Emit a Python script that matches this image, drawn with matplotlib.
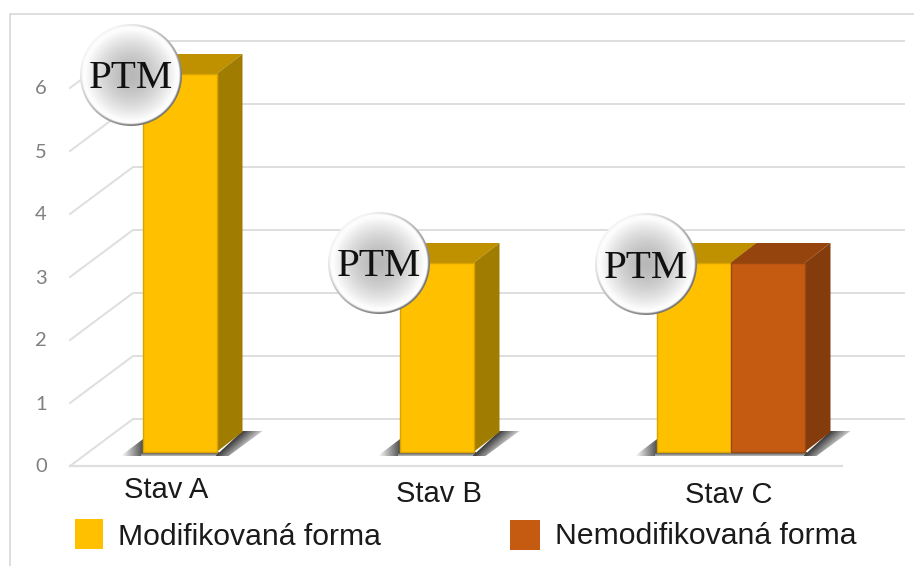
"""Sloupcovy graf PTM: stavy A, B, C s 3D vzhledem kresleny v matplotlib."""
import matplotlib

matplotlib.use("Agg")
import matplotlib.pyplot as plt
import numpy as np
from matplotlib.patches import Ellipse, Polygon, Rectangle

W, H = 914, 566
UNIT = 63.0  # px na jednotku osy y
BASE = 452.0  # px, kde lezi paty sloupcu

states = ["Stav A", "Stav B", "Stav C"]
modified = [6, 3, 3]
unmodified = [0, 0, 3]
y_ticks = [0, 1, 2, 3, 4, 5, 6]
series_names = ["Modifikovaná forma", "Nemodifikovaná forma"]

BAR_LEFT = [142.5, 399.5, 656.5]
BAR_W = 74
DX, DY = 26, 20
LABEL_POS = [(166, 490), (439, 494), (729, 495)]
PTM_POS = [(131, 75), (379, 263), (646, 264)]

YELLOW = ("#FFC000", "#BF9000", "#A07C00", "#D9A400")
ORANGE = ("#C55A11", "#94440C", "#843C0C", "#9A4A10")
GRID = "#DEDEDE"
SHADOW = matplotlib.colors.LinearSegmentedColormap.from_list("s", ["#3C3C3C", "#FFFFFF"])


def vy(py):
    return (BASE - py) / UNIT


def dy(px):
    return px / UNIT


def shadow_piece(ax, pts, fade):
    """Polygon stinu na podlaze; fade(x, y) dava 0 (tmava) az 1 (svetla)."""
    xs = [p[0] for p in pts]
    ys = [p[1] for p in pts]
    x0, x1, y0, y1 = min(xs), max(xs), min(ys), max(ys)
    yy, xx = np.mgrid[y0:y1:48j, x0:x1:96j]
    poly = Polygon([(x, vy(y)) for x, y in pts], closed=True, facecolor="none", edgecolor="none")
    ax.add_patch(poly)
    im = ax.imshow(np.clip(fade(xx, yy), 0, 1), extent=(x0, x1, vy(y1), vy(y0)), cmap=SHADOW,
                   vmin=0, vmax=1, aspect="auto", zorder=2, origin="upper")
    im.set_clip_path(poly)


def draw_shadow(ax, left, right):
    shadow_piece(ax, [(left - 22, 456), (left + 2, 438), (left + 2, 456)],
                 lambda x, y: (left - x) / 24 + 0.1)
    # pruh pod sloupcem
    shadow_piece(ax, [(left - 2, 452), (right + 2, 452), (right + 2, 456), (left - 2, 456)],
                 lambda x, y: (y - 452) / 6)

    def fade(x, y):
        line = right + (455 - y) * DX / 24
        return (x - line) / 26

    shadow_piece(ax, [(right - 1, 456), (right + DX, 431), (right + 46, 431), (right + 12, 456)], fade)


def draw_bar(ax, left, value, colors, zorder):
    front, top, side, edge = colors
    right = left + BAR_W
    ax.bar(left, value, width=BAR_W, bottom=0, align="edge", color=front, edgecolor=edge,
           linewidth=1.0, zorder=zorder + 1)
    ax.add_patch(Polygon([(left, value), (right, value), (right + DX, value + dy(DY)),
                          (left + DX, value + dy(DY))], facecolor=top, edgecolor="none",
                         zorder=zorder))
    ax.add_patch(Polygon([(right, 0), (right + DX, dy(DY)), (right + DX, value + dy(DY)),
                          (right, value)], facecolor=side, edgecolor="none", zorder=zorder))


def draw_ptm(ax, cx, cy, r=51):
    n = 301
    yy, xx = np.mgrid[-1:1:n * 1j, -1:1:n * 1j]
    rr = np.sqrt(xx ** 2 + yy ** 2)
    shade = 0.72 + 0.27 * np.clip(rr / 0.90, 0, 1) ** 1.6
    # okraj: svetly vlevo nahore, tmavsi vpravo dole
    rim = np.clip((rr - 0.95) / 0.03, 0, 1)
    tilt = np.clip((xx + yy) / 1.2, -1, 1)
    edge = 0.70 - 0.25 * tilt
    img = shade * (1 - rim) + edge * rim
    im = ax.imshow(img, extent=(cx - r, cx + r, vy(cy + r), vy(cy - r)), cmap="gray",
                   vmin=0, vmax=1, aspect="auto", zorder=10, origin="upper")
    clip = Ellipse((cx, vy(cy)), 2 * r, 2 * r / UNIT, facecolor="none", edgecolor="none", zorder=10)
    ax.add_patch(clip)
    im.set_clip_path(clip)
    ax.text(cx, vy(cy + 4), "PTM", family="Liberation Serif", fontsize=29.5, color="#111111",
            ha="center", va="center", zorder=11)


def main():
    fig = plt.figure(figsize=(W / 100, H / 100), dpi=100)
    ax = fig.add_axes([0, 0, 1, 1])
    ax.axis("off")

    # ramecek
    ax.plot([9.5, 9.5, W], [vy(H), vy(14), vy(14)], color="#D4D4D4", lw=1.1, zorder=1)

    # steny a podlaha
    for v in y_ticks:
        ax.plot([70, 133, 904], [v + vy(466), v + vy(419), v + vy(419)], color=GRID, lw=1.4,
                zorder=1, solid_joinstyle="miter")
        ax.text(41, v + vy(467), str(v), family="Lato", fontsize=14.5, color="#808080",
                ha="center", va="center", zorder=3)
    ax.plot([70, 842], [vy(466), vy(466)], color=GRID, lw=1.6, zorder=1)

    for i, left in enumerate(BAR_LEFT):
        has_second = unmodified[i] > 0
        right = left + BAR_W * (2 if has_second else 1)
        draw_shadow(ax, left, right)
        draw_bar(ax, left, modified[i], YELLOW, 3)
        if has_second:
            draw_bar(ax, left + BAR_W, unmodified[i], ORANGE, 5)
        ax.text(LABEL_POS[i][0], vy(LABEL_POS[i][1]), states[i], family="Liberation Sans",
                fontsize=21, color="#1A1A1A", ha="center", va="center", zorder=4)

    for cx, cy in PTM_POS:
        draw_ptm(ax, cx, cy)

    # legenda
    ax.add_patch(Rectangle((75, vy(549)), 28, dy(30), facecolor=YELLOW[0], edgecolor="none"))
    ax.add_patch(Rectangle((510, vy(550)), 30, dy(30), facecolor=ORANGE[0], edgecolor="none"))
    ax.text(118, vy(537), series_names[0], family="Liberation Sans", fontsize=21.7,
            color="#1A1A1A", ha="left", va="center")
    ax.text(555, vy(536), series_names[1], family="Liberation Sans", fontsize=21.7,
            color="#1A1A1A", ha="left", va="center")

    ax.set_xlim(0, W)
    ax.set_ylim(vy(H), vy(0))
    fig.savefig("out.png", dpi=100)
    plt.close(fig)


if __name__ == "__main__":
    main()
